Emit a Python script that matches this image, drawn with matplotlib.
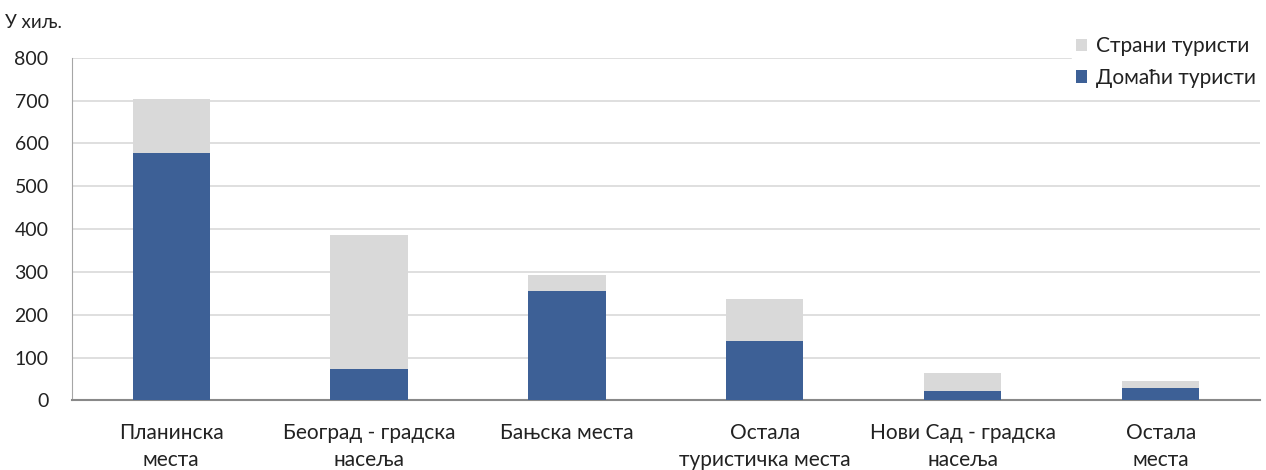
import matplotlib.pyplot as plt
import numpy as np

plt.rcParams['font.family'] = ['Lato', 'DejaVu Sans']

categories = ["Планинска\nместа", "Београд - градска\nнасеља", "Бањска места",
              "Остала\nтуристичка места", "Нови Сад - градска\nнасеља", "Остала\nместа"]
domestic = [578, 74, 256, 139, 21, 30]
foreign = [126, 313, 37, 98, 43, 15]

blue = '#3d6096'
grey = '#d9d9d9'

fig = plt.figure(figsize=(12.66, 4.70), dpi=100)
ax = fig.add_axes([0.057, 0.148, 0.938, 0.729])

x = np.arange(len(categories))
ax.bar(x, domestic, width=0.39, color=blue, label="Домаћи туристи", zorder=3)
ax.bar(x, foreign, width=0.39, bottom=domestic, color=grey, label="Страни туристи", zorder=3)

ax.set_xlim(-0.5, len(categories) - 0.5)
ax.set_ylim(0, 800)
ax.set_yticks(range(0, 801, 100))
ax.yaxis.grid(True, color='#d9d9d9', linewidth=1.2, zorder=0)
ax.set_xticks(x)
ax.set_xticklabels(categories, fontsize=15, color='#222222', linespacing=1.45)
ax.tick_params(axis='y', labelsize=14, colors='#222222', length=0, pad=17)
ax.tick_params(axis='x', length=0, pad=16)
for s in ['top', 'right']:
    ax.spines[s].set_visible(False)
ax.spines['left'].set_color('#a6a6a6')
ax.spines['bottom'].set_color('#898989')
ax.spines['bottom'].set_linewidth(1.5)

handles, labels = ax.get_legend_handles_labels()
leg = ax.legend(handles[::-1], labels[::-1], loc='upper right', bbox_to_anchor=(1.0, 1.075),
                frameon=True, framealpha=1, edgecolor='white', fontsize=15,
                handlelength=0.55, handleheight=0.55, handletextpad=0.4, labelspacing=0.55,
                borderaxespad=0, borderpad=0.2)
for t in leg.get_texts():
    t.set_color('#222222')

fig.text(0.004, 0.952, "У хиљ.", fontsize=13.5, color='#222222', va='center')

fig.savefig('out.png', dpi=100)
